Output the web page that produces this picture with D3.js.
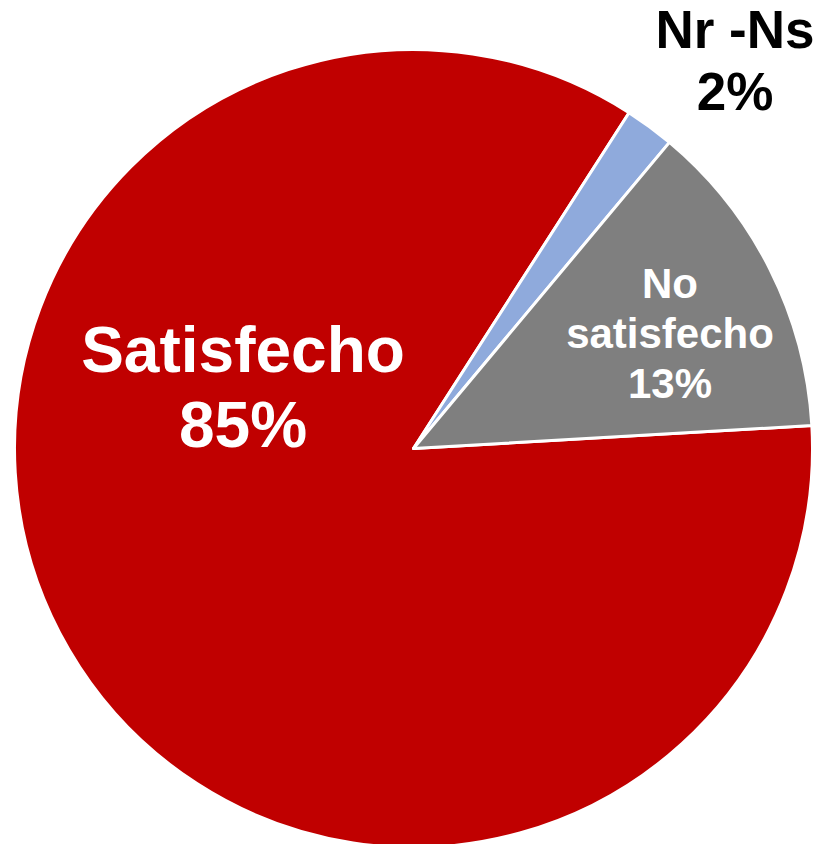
<!DOCTYPE html>
<html><head><meta charset="utf-8">
<script src="https://cdn.jsdelivr.net/npm/d3@7"></script>
<style>html,body{margin:0;padding:0;background:#fff;}svg{display:block;}</style>
</head><body>
<svg id="chart" width="819" height="844"></svg>
<script>
const categories = ["Satisfecho", "Nr -Ns", "No satisfecho"];
const values = [85, 2, 13];
const colors = ["#C00000", "#8FAADC", "#7F7F7F"];

const svg = d3.select("#chart");
const cx = 413.5, cy = 448.5, r = 399;
const start = 86.7 * Math.PI / 180;
const pie = d3.pie().sort(null).value(d => d).startAngle(start).endAngle(start + 2 * Math.PI);
const arcs = pie(values);
const arc = d3.arc().innerRadius(0).outerRadius(r);
const g = svg.append("g").attr("transform", `translate(${cx},${cy})`);
g.selectAll("path").data(arcs).enter().append("path")
  .attr("d", arc).attr("fill", (d, i) => colors[i])
  .attr("stroke", "#fff").attr("stroke-width", 3).attr("stroke-linejoin", "round");

const font = "'Liberation Sans', Arial, sans-serif";
const labels = [
  { lines: [categories[0], values[0] + "%"], x: 243, y: 372, size: 64, lh: 75, fill: "#fff" },
  { lines: ["Nr -Ns", values[1] + "%"], x: 735, y: 48, size: 53, lh: 62, fill: "#000" },
  { lines: ["No", "satisfecho", values[2] + "%"], x: 670, y: 298, size: 42, lh: 50, fill: "#fff" }
];
labels.forEach(l => {
  const t = svg.append("text").attr("text-anchor", "middle")
    .attr("font-family", font).attr("font-weight", "bold")
    .attr("font-size", l.size).attr("fill", l.fill);
  l.lines.forEach((s, i) => t.append("tspan").attr("x", l.x).attr("y", l.y + i * l.lh).text(s));
});
</script>
</body></html>
